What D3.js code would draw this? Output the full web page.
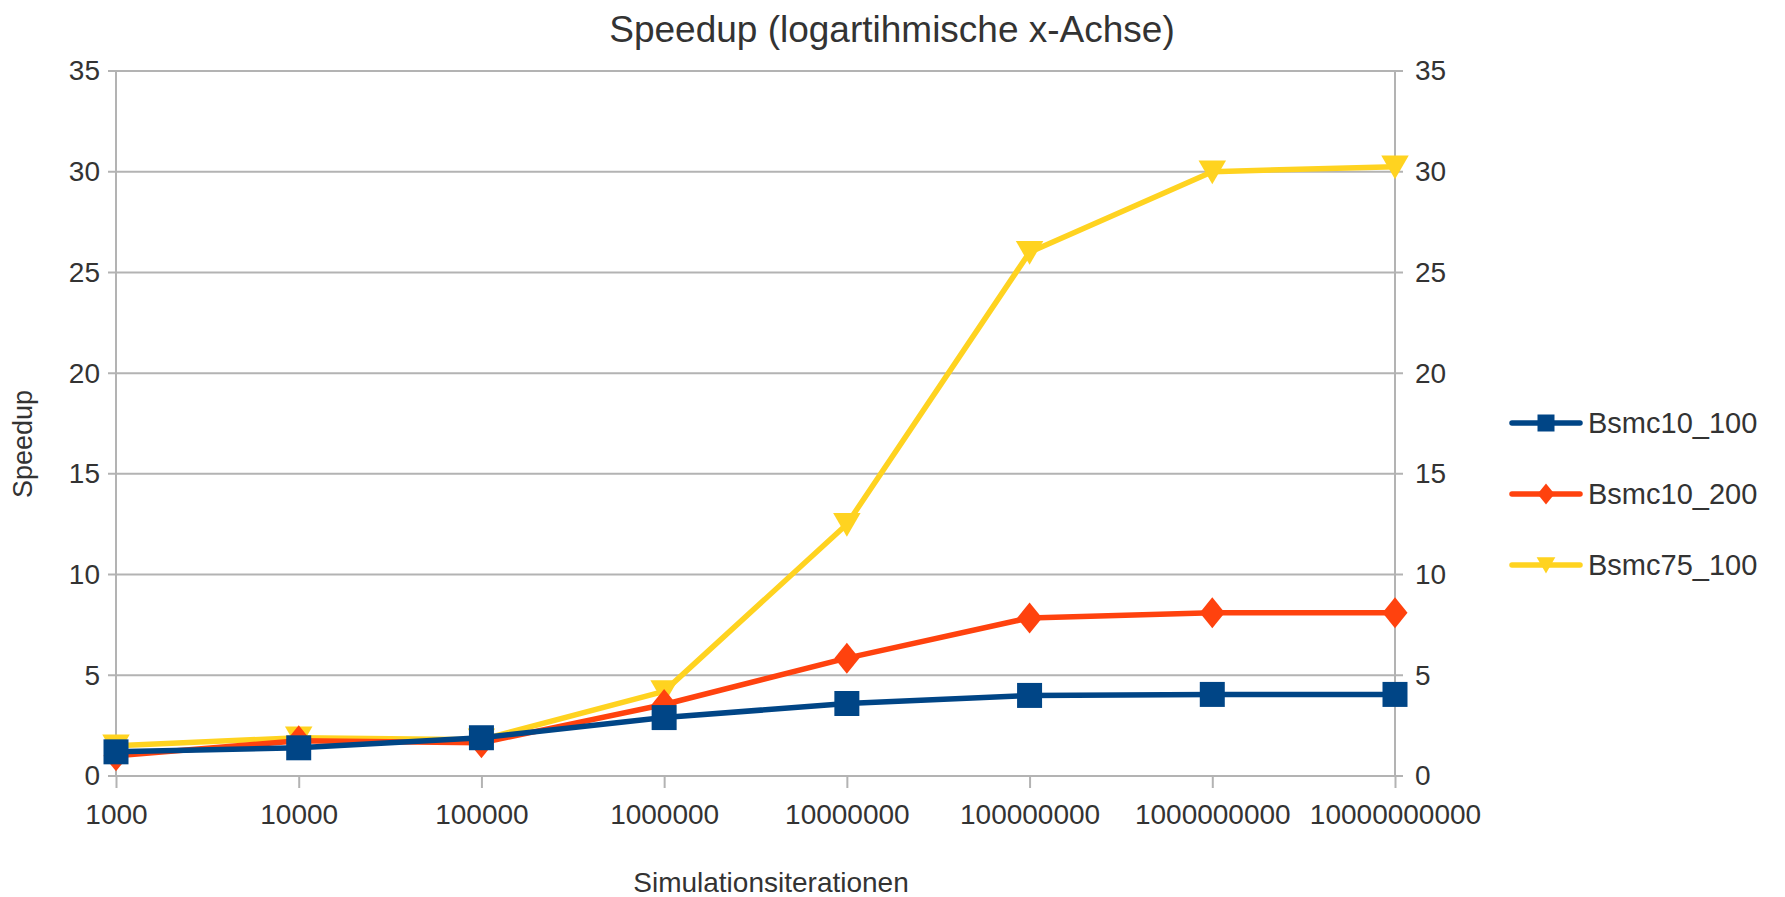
<!DOCTYPE html>
<html>
<head>
<meta charset="utf-8">
<script src="https://cdn.jsdelivr.net/npm/d3@7"></script>
<style>
  body { margin: 0; background: #fff; }
  text { font-family: "Liberation Sans", Arial, sans-serif; fill: #333; }
</style>
</head>
<body>
<div id="chart"></div>
<script>
// data
var iterations = [1e3, 1e4, 1e5, 1e6, 1e7, 1e8, 1e9, 1e10];
var tickLabels = ["1000", "10000", "100000", "1000000", "10000000", "100000000", "1000000000", "10000000000"];
var yTicks = [0, 5, 10, 15, 20, 25, 30, 35];
var seriesNames = ["Bsmc10_100", "Bsmc10_200", "Bsmc75_100"];
var bsmc10_100 = [1.2, 1.4, 1.9, 2.9, 3.6, 4.0, 4.05, 4.05];
var bsmc10_200 = [1.0, 1.75, 1.65, 3.55, 5.85, 7.85, 8.1, 8.1];
var bsmc75_100 = [1.5, 1.9, 1.8, 4.2, 12.5, 26.0, 30.0, 30.25];

var colors = ["#004586", "#ff420e", "#ffd320"];
var shapes = ["square", "diamond", "triangle"];

var W = 1785, H = 897;
var margin = {top: 71, right: 390, bottom: 121, left: 116};
var width = W - margin.left - margin.right;
var height = H - margin.top - margin.bottom;

var svg = d3.select("#chart").append("svg")
  .attr("width", W)
  .attr("height", H);

var g = svg.append("g")
  .attr("transform", "translate(" + margin.left + "," + margin.top + ")");

var x = d3.scaleLog()
  .domain([1e3, 1e10])
  .range([0, width]);
var y = d3.scaleLinear()
  .domain([0, 35])
  .range([height, 0]);

// grid lines
g.append("g").selectAll("line")
  .data(yTicks)
  .enter().append("line")
  .attr("x1", -8)
  .attr("x2", width + 8)
  .attr("y1", function(d) { return y(d); })
  .attr("y2", function(d) { return y(d); })
  .attr("stroke", "#b3b3b3")
  .attr("stroke-width", 2);

// vertical axis lines
[0, width].forEach(function(xx) {
  g.append("line")
    .attr("x1", xx).attr("x2", xx)
    .attr("y1", 0).attr("y2", height)
    .attr("stroke", "#b3b3b3")
    .attr("stroke-width", 2);
});

// left / right y labels
var yLeft = d3.axisLeft(y).tickValues(yTicks).tickSize(0).tickPadding(16);
var yRight = d3.axisRight(y).tickValues(yTicks).tickSize(0).tickPadding(20);
var yl = g.append("g").call(yLeft);
var yr = g.append("g").attr("transform", "translate(" + width + ",0)").call(yRight);
[yl, yr].forEach(function(a) {
  a.select(".domain").remove();
  a.selectAll("text").style("font-size", "28px").attr("fill", "#333");
});

// x axis
var xAxis = d3.axisBottom(x)
  .tickValues(iterations)
  .tickFormat(function(d, i) { return tickLabels[i]; })
  .tickSize(12)
  .tickPadding(16);
var xa = g.append("g")
  .attr("transform", "translate(0," + height + ")")
  .call(xAxis);
xa.select(".domain").remove();
xa.selectAll(".tick line").attr("stroke", "#b3b3b3").attr("stroke-width", 2);
xa.selectAll("text").style("font-size", "28px").attr("fill", "#333");

function markerPath(shape, s) {
  var p = d3.path();
  if (shape == "square") {
    p.rect(-s / 2, -s / 2, s, s);
  } else if (shape == "diamond") {
    p.moveTo(0, -s * 0.62); p.lineTo(s * 0.5, 0); p.lineTo(0, s * 0.62); p.lineTo(-s * 0.5, 0); p.closePath();
  } else {
    p.moveTo(-s * 0.55, -s * 0.45); p.lineTo(s * 0.55, -s * 0.45); p.lineTo(0, s * 0.5); p.closePath();
  }
  return p.toString();
}

var allSeries = [bsmc10_100, bsmc10_200, bsmc75_100];

var line = d3.line()
  .x(function(d, i) { return x(iterations[i]); })
  .y(function(d) { return y(d); });

// yellow first, blue last (on top)
[2, 1, 0].forEach(function(k) {
  var s = g.append("g");
  s.append("path")
    .datum(allSeries[k])
    .attr("d", line)
    .attr("fill", "none")
    .attr("stroke", colors[k])
    .attr("stroke-width", 5.5)
    .attr("stroke-linejoin", "round");
  s.selectAll(".m")
    .data(allSeries[k])
    .enter().append("path")
    .attr("class", "m")
    .attr("transform", function(d, i) { return "translate(" + x(iterations[i]) + "," + y(d) + ")"; })
    .attr("d", markerPath(shapes[k], 25))
    .attr("fill", colors[k]);
});

// titles
svg.append("text")
  .attr("x", 892).attr("y", 42)
  .attr("text-anchor", "middle")
  .style("font-size", "37px")
  .text("Speedup (logartihmische x-Achse)");

svg.append("text")
  .attr("x", 771).attr("y", 892)
  .attr("text-anchor", "middle")
  .style("font-size", "28px")
  .text("Simulationsiterationen");

svg.append("text")
  .attr("transform", "translate(32,444) rotate(-90)")
  .attr("text-anchor", "middle")
  .style("font-size", "27px")
  .text("Speedup");

// legend
var legend = svg.append("g").attr("transform", "translate(1512,0)");
seriesNames.forEach(function(name, k) {
  var ly = 423 + k * 71;
  legend.append("line")
    .attr("x1", 0).attr("x2", 68)
    .attr("y1", ly).attr("y2", ly)
    .attr("stroke", colors[k])
    .attr("stroke-width", 5.5)
    .attr("stroke-linecap", "round");
  legend.append("path")
    .attr("transform", "translate(34," + ly + ")")
    .attr("d", markerPath(shapes[k], 17))
    .attr("fill", colors[k]);
  legend.append("text")
    .attr("x", 76).attr("y", ly)
    .attr("dy", "0.35em")
    .style("font-size", "29px")
    .text(name);
});
</script>
</body>
</html>
